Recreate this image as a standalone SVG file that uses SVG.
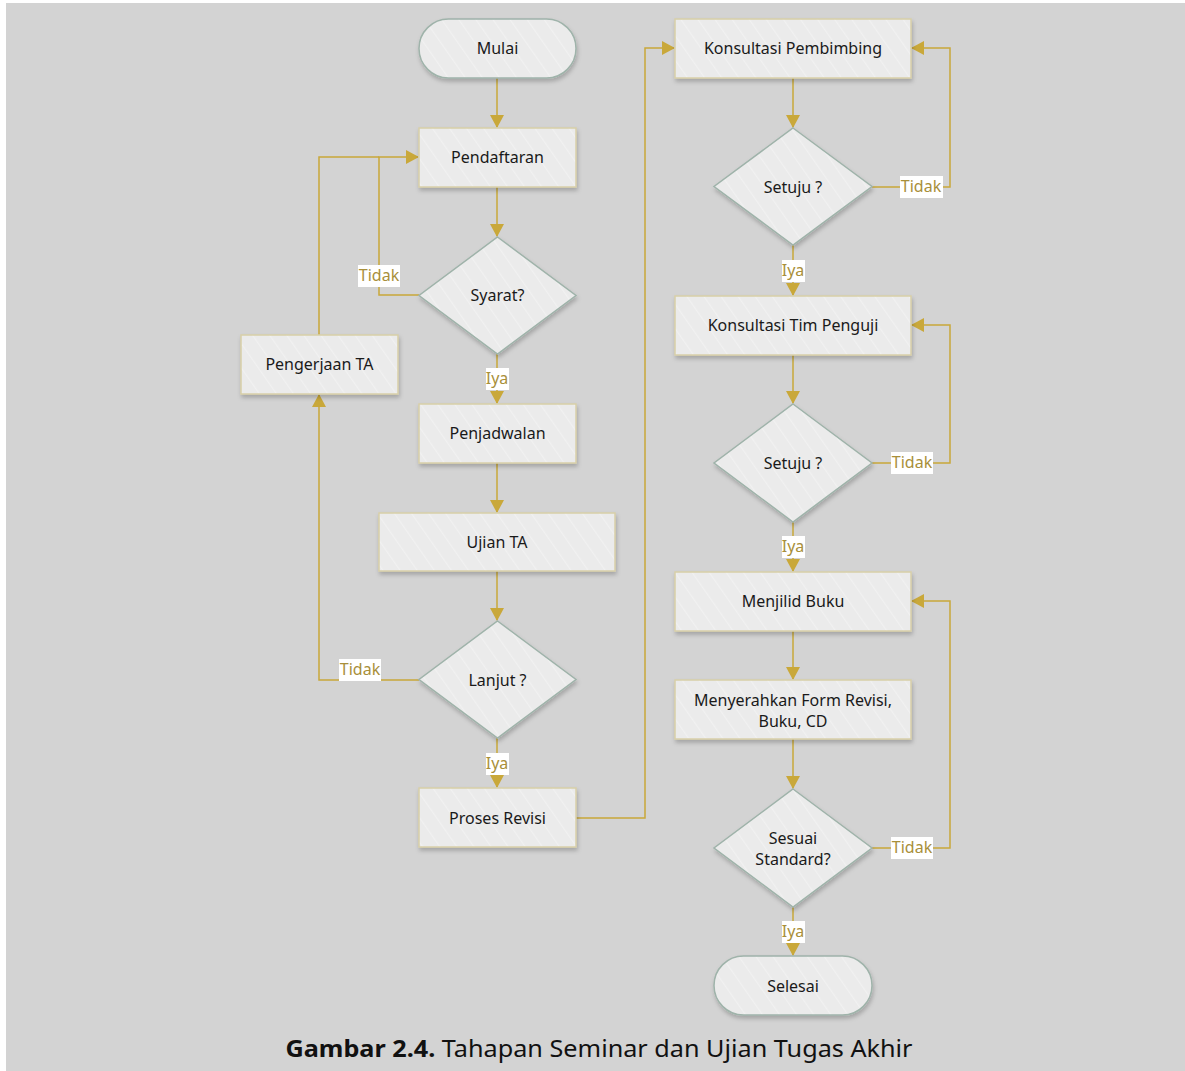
<svg xmlns="http://www.w3.org/2000/svg" width="1185" height="1071" viewBox="0 0 1185 1071">
<defs>
<pattern id="stripes" width="14" height="14" patternUnits="userSpaceOnUse" patternTransform="rotate(-35)">
<rect width="14" height="14" fill="#ebebeb"/>
<rect width="1.2" height="14" fill="#f1f1f1"/>
</pattern>
<filter id="sh" x="-20%" y="-20%" width="140%" height="150%">
<feDropShadow dx="1" dy="3" stdDeviation="2" flood-color="#000" flood-opacity="0.22"/>
</filter>
<marker id="ah" markerWidth="14" markerHeight="14" refX="12" refY="7" orient="auto" markerUnits="userSpaceOnUse">
<path d="M0,0 L13,7 L0,14 Z" fill="#c9a83a"/>
</marker>
<style>
.proc{fill:url(#stripes);stroke:#d8cfa8;stroke-width:1.5;filter:url(#sh)}
.dec{fill:url(#stripes);stroke:#9fb3aa;stroke-width:1.5;filter:url(#sh)}
.term{fill:url(#stripes);stroke:#9fb3aa;stroke-width:1.5;filter:url(#sh)}
.t{font-family:"Noto Sans","Open Sans",sans-serif;font-size:16px;fill:#1a1a1a;text-anchor:middle}
.c{fill:none;stroke:#c9a83a;stroke-width:1.5}
.lb{fill:#ffffff}
.lt{font-family:"Noto Sans","Open Sans",sans-serif;font-size:16px;fill:#a88f3a;text-anchor:middle}
.cap{font-family:"Noto Sans","Open Sans",sans-serif;font-size:24px;fill:#111;text-anchor:middle}
</style>
</defs>
<rect x="0" y="0" width="1185" height="1071" fill="#ffffff"/>
<rect x="6" y="3" width="1179" height="1068" fill="#d3d3d3"/>

<g id="connectors">
<path class="c" d="M497,78 V127" marker-end="url(#ah)"/>
<path class="c" d="M497,187 V236" marker-end="url(#ah)"/>
<path class="c" d="M419,295 H379 V157 H418" marker-end="url(#ah)"/>
<path class="c" d="M319,335 V157 H379"/>
<path class="c" d="M497,354 V403" marker-end="url(#ah)"/>
<path class="c" d="M497,463 V512" marker-end="url(#ah)"/>
<path class="c" d="M497,571 V620" marker-end="url(#ah)"/>
<path class="c" d="M419,680 H319 V395" marker-end="url(#ah)"/>
<path class="c" d="M497,738 V787" marker-end="url(#ah)"/>
<path class="c" d="M576,818 H645 V48 H674" marker-end="url(#ah)"/>
<path class="c" d="M793,78 V127" marker-end="url(#ah)"/>
<path class="c" d="M872,187 H950 V48 H912" marker-end="url(#ah)"/>
<path class="c" d="M793,245 V295" marker-end="url(#ah)"/>
<path class="c" d="M793,355 V403" marker-end="url(#ah)"/>
<path class="c" d="M872,463 H950 V325 H912" marker-end="url(#ah)"/>
<path class="c" d="M793,522 V571" marker-end="url(#ah)"/>
<path class="c" d="M793,631 V679" marker-end="url(#ah)"/>
<path class="c" d="M793,739 V788" marker-end="url(#ah)"/>
<path class="c" d="M872,848 H950 V601 H912" marker-end="url(#ah)"/>
<path class="c" d="M793,907 V955" marker-end="url(#ah)"/>
</g>

<g id="labels">
<rect class="lb" x="358" y="265" width="42" height="22"/><text class="lt" x="379" y="281">Tidak</text>
<rect class="lb" x="486" y="368" width="23" height="22"/><text class="lt" x="497" y="384">Iya</text>
<rect class="lb" x="339" y="659" width="42" height="22"/><text class="lt" x="360" y="675">Tidak</text>
<rect class="lb" x="486" y="753" width="23" height="22"/><text class="lt" x="497" y="769">Iya</text>
<rect class="lb" x="900" y="176" width="43" height="22"/><text class="lt" x="921" y="192">Tidak</text>
<rect class="lb" x="782" y="260" width="23" height="22"/><text class="lt" x="793" y="276">Iya</text>
<rect class="lb" x="891" y="452" width="42" height="22"/><text class="lt" x="912" y="468">Tidak</text>
<rect class="lb" x="782" y="536" width="23" height="22"/><text class="lt" x="793" y="552">Iya</text>
<rect class="lb" x="891" y="837" width="42" height="22"/><text class="lt" x="912" y="853">Tidak</text>
<rect class="lb" x="782" y="921" width="23" height="22"/><text class="lt" x="793" y="937">Iya</text>
</g>

<g id="mulai"><rect class="term" x="419" y="19" width="157" height="59" rx="29.5"/><text class="t" x="497.5" y="54">Mulai</text></g>
<g id="pendaftaran"><rect class="proc" x="419" y="128" width="157" height="59"/><text class="t" x="497.5" y="163">Pendaftaran</text></g>
<g id="syarat"><path class="dec" d="M497.5,237 L576,295.5 L497.5,354 L419,295.5 Z"/><text class="t" x="497.5" y="301">Syarat?</text></g>
<g id="pengerjaan"><rect class="proc" x="241" y="335" width="157" height="59"/><text class="t" x="319.5" y="370">Pengerjaan TA</text></g>
<g id="penjadwalan"><rect class="proc" x="419" y="404" width="157" height="59"/><text class="t" x="497.5" y="439">Penjadwalan</text></g>
<g id="ujian"><rect class="proc" x="379" y="513" width="236" height="58"/><text class="t" x="497" y="548">Ujian TA</text></g>
<g id="lanjut"><path class="dec" d="M497.5,621 L576,679.5 L497.5,738 L419,679.5 Z"/><text class="t" x="497.5" y="686">Lanjut ?</text></g>
<g id="revisi"><rect class="proc" x="419" y="788" width="157" height="59"/><text class="t" x="497.5" y="824">Proses Revisi</text></g>

<g id="pembimbing"><rect class="proc" x="675" y="19" width="236" height="59"/><text class="t" x="793" y="54">Konsultasi Pembimbing</text></g>
<g id="setuju1"><path class="dec" d="M793,128 L872,186.5 L793,245 L714,186.5 Z"/><text class="t" x="793" y="193">Setuju ?</text></g>
<g id="penguji"><rect class="proc" x="675" y="296" width="236" height="59"/><text class="t" x="793" y="331">Konsultasi Tim Penguji</text></g>
<g id="setuju2"><path class="dec" d="M793,404 L872,463 L793,522 L714,463 Z"/><text class="t" x="793" y="469">Setuju ?</text></g>
<g id="menjilid"><rect class="proc" x="675" y="572" width="236" height="59"/><text class="t" x="793" y="607">Menjilid Buku</text></g>
<g id="menyerahkan"><rect class="proc" x="675" y="680" width="236" height="59"/><text class="t" x="793" y="706">Menyerahkan Form Revisi,</text><text class="t" x="793" y="727">Buku, CD</text></g>
<g id="sesuai"><path class="dec" d="M793,789 L872,848 L793,907 L714,848 Z"/><text class="t" x="793" y="844">Sesuai</text><text class="t" x="793" y="865">Standard?</text></g>
<g id="selesai"><rect class="term" x="714" y="956" width="158" height="59" rx="29.5"/><text class="t" x="793" y="992">Selesai</text></g>

<text class="cap" x="599" y="1057" textLength="627" lengthAdjust="spacingAndGlyphs"><tspan font-weight="bold">Gambar 2.4.</tspan> Tahapan Seminar dan Ujian Tugas Akhir</text>
</svg>
